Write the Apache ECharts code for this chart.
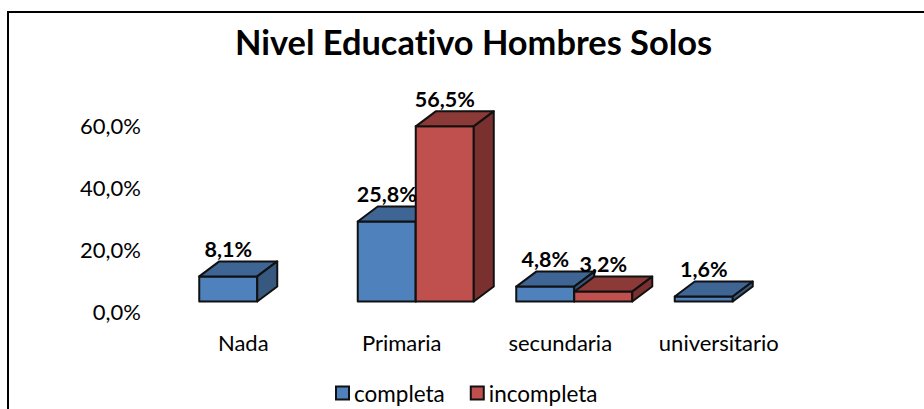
<!DOCTYPE html>
<html><head><meta charset="utf-8">
<style>html,body{margin:0;padding:0;background:#fff}#c{width:924px;height:409px}svg text{font-variant-ligatures:none}</style>
<script src="https://cdn.jsdelivr.net/npm/echarts@6/dist/echarts.min.js"></script>
</head><body><div id="c"></div>
<script>
var titleText = 'Nivel Educativo Hombres Solos';
var categories = ['Nada', 'Primaria', 'secundaria', 'universitario'];
var completa = [8.1, 25.8, 4.8, 1.6];
var incompleta = [null, 56.5, 3.2, null];
var yTicks = [0, 20, 40, 60];
var FONT = 'Lato';
var DX = 20, DY = 15, SHIFT_X = 14, SHIFT_Y = 10, BAR_RATIO = 0.366;
function fmt(v){ return v.toFixed(1).replace('.', ',') + '%'; }
function bar3d(side, front, top, dark){
  return function(params, api){
    var v = api.value(1);
    if (v === null || v === undefined || isNaN(v)) return;
    var base = api.coord([api.value(0), 0]);
    var head = api.coord([api.value(0), v]);
    var w = api.size([1, 0])[0] * BAR_RATIO;
    var x0 = base[0] + SHIFT_X + (side < 0 ? -w : 0), x1 = x0 + w;
    var yb = base[1] - SHIFT_Y, yt = head[1] - SHIFT_Y;
    var st = {stroke: '#111', lineWidth: 2, lineJoin: 'round'};
    return {type: 'group', children: [
      {type: 'rect', shape: {x: x0, y: yt, width: w, height: yb - yt}, style: Object.assign({fill: front}, st)},
      {type: 'polygon', shape: {points: [[x0, yt], [x0 + DX, yt - DY], [x1 + DX, yt - DY], [x1, yt]]}, style: Object.assign({fill: top}, st)},
      {type: 'polygon', shape: {points: [[x1, yt], [x1 + DX, yt - DY], [x1 + DX, yb - DY], [x1, yb]]}, style: Object.assign({fill: dark}, st)},
      {type: 'text', z2: 100, style: {text: fmt(v), x: (x0 + x1) / 2, y: yt - 27.5, align: 'center', verticalAlign: 'middle',
        fill: '#000', font: 'bold 21.5px ' + FONT}}
    ]};
  };
}
function toData(arr){ return arr.map(function(v, i){ return [i, v === null ? NaN : v]; }); }
var chart = echarts.init(document.getElementById('c'), null, {renderer: 'svg'});
chart.setOption({
  animation: false,
  backgroundColor: '#fff',
  title: {text: titleText, left: 468.5, top: 19, textAlign: 'center',
    textStyle: {fontFamily: FONT, fontWeight: 'bold', fontSize: 34.4, color: '#000'}},
  legend: {left: 330, top: 376.5, itemWidth: 13, itemHeight: 13, itemGap: 25, icon: 'rect',
    itemStyle: {borderColor: '#111', borderWidth: 2},
    textStyle: {fontFamily: FONT, fontSize: 22.5, color: '#000'},
    data: ['completa', 'incompleta']},
  grid: {left: 164, width: 634, top: 125.5, height: 186},
  xAxis: {type: 'category', data: categories, axisLine: {show: false}, axisTick: {show: false},
    axisLabel: {margin: 19.5, fontFamily: FONT, fontSize: 22, color: '#000', interval: 0}, splitLine: {show: false}},
  yAxis: {type: 'value', min: yTicks[0], max: yTicks[yTicks.length - 1], interval: 20,
    axisLine: {show: false}, axisTick: {show: false}, splitLine: {show: false},
    axisLabel: {margin: 23, fontFamily: FONT, fontSize: 22, color: '#000', formatter: function(v){ return fmt(v); }}},
  graphic: [{type: 'polyline', silent: true, shape: {points: [[8, 409], [8, 12], [924, 12]]},
    style: {stroke: '#000', lineWidth: 2, fill: null}}],
  series: [
    {name: 'completa', type: 'custom', clip: false, itemStyle: {color: '#4F81BD'}, encode: {x: 0, y: 1},
     renderItem: bar3d(-1, '#4F81BD', '#3E6593', '#38597F'), data: toData(completa)},
    {name: 'incompleta', type: 'custom', clip: false, itemStyle: {color: '#C0504D'}, encode: {x: 0, y: 1},
     renderItem: bar3d(1, '#C0504D', '#8C3A38', '#7A302E'), data: toData(incompleta)}
  ]
});
</script></body></html>
